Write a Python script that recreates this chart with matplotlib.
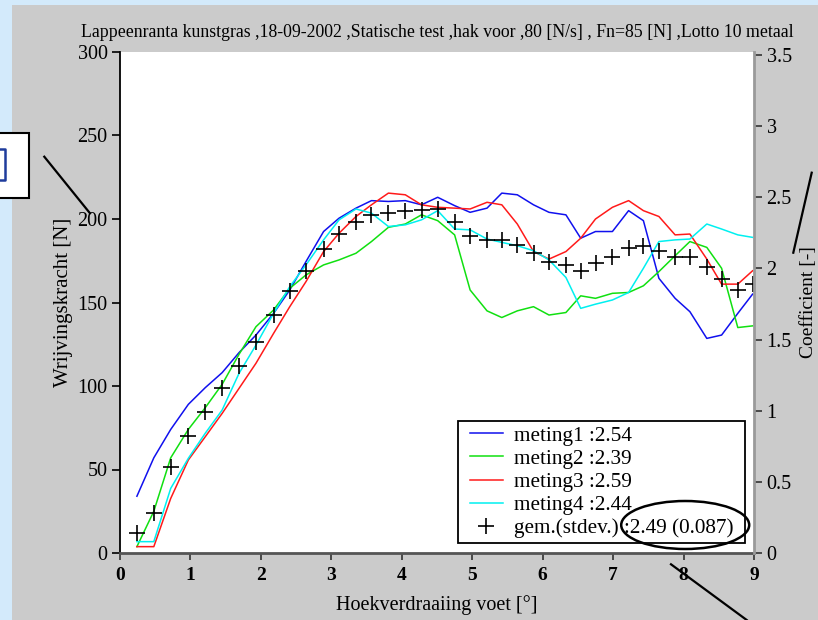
import matplotlib
matplotlib.use("Agg")
import matplotlib.pyplot as plt
from matplotlib.patches import Rectangle, Ellipse
from matplotlib.lines import Line2D

# hoekverdraaiing (graden) van de meetpunten
hoek = [0.24, 0.48, 0.72, 0.97, 1.21, 1.45, 1.69, 1.93, 2.18, 2.41,
        2.64, 2.89, 3.11, 3.35, 3.57, 3.81, 4.05, 4.28, 4.51, 4.75,
        4.97, 5.21, 5.42, 5.64, 5.87, 6.09, 6.33, 6.54, 6.75, 6.99,
        7.22, 7.43, 7.65, 7.88, 8.09, 8.33, 8.54, 8.77, 8.98]

meting1 = [34, 57, 74, 89, 99, 108, 120, 130.5, 143.5, 157.5,
           174.5, 192.5, 200.5, 206.5, 211, 210.5, 211, 208.5, 213, 208,
           204, 206.5, 215.5, 214.5, 208.5, 204, 202.5, 188.5, 192.5, 192.5,
           205, 199, 164.5, 152.5, 144.5, 128.5, 130.5, 143.5, 155]
meting2 = [3.8, 25, 57, 74, 87, 101, 119, 135.5, 145.5, 158.5,
           166.5, 172.5, 175.5, 179.5, 186.5, 195, 197, 202.5, 199, 190.5,
           157.5, 145, 141, 145, 147.5, 142.5, 144, 154, 152.5, 155.5,
           156, 160, 168.5, 178, 186.5, 183, 170.5, 135, 136]
meting3 = [3.8, 3.8, 32.7, 55.7, 69.6, 83.6, 98.6, 113.6, 131.5, 147.5,
           162.5, 180.5, 191.5, 201.5, 208.5, 215.5, 214.5, 208.5, 207, 206.5,
           206, 210, 208.5, 197, 180.5, 176, 180.5, 188.5, 200, 207,
           211, 205, 201.5, 190.5, 191, 176, 161, 161, 169]
meting4 = [6.8, 6.8, 38.7, 56.7, 71.7, 85.6, 107.6, 124.5, 143.5, 159.5,
           172.5, 187.5, 199.5, 206, 203.5, 195.5, 196.5, 199.5, 205, 194,
           193.5, 188, 186, 184, 181, 175.5, 165, 146.5, 149, 151.5,
           156, 170.5, 186.5, 187.5, 188, 197, 194, 190.5, 189]
gemiddeld = [11.8, 24.1, 51.3, 70.1, 84.6, 98.6, 112, 126.5, 142.5, 157,
             169, 182, 191, 198.4, 202.4, 203.8, 204.8, 205.4, 205.8, 198.4,
             190, 187.4, 187.4, 184.4, 179.8, 174.4, 172.5, 168.9, 173.5, 177,
             182.4, 183.8, 180.8, 177, 177.4, 171, 164, 157.5, 160.9]

labels = ["meting1 :2.54", "meting2 :2.39", "meting3 :2.59", "meting4 :2.44",
          "gem.(stdev.) :2.49 (0.087)"]
colors = ["#1010ee", "#10e010", "#ff1a1a", "#00f0f0"]

plt.rcParams['font.family'] = ['Liberation Serif', 'DejaVu Serif']

W, H = 818, 620
fig = plt.figure(figsize=(W / 100, H / 100), dpi=100)
fig.patch.set_facecolor("#d3eafb")


def px(x, y):
    """pixel (van linksboven) naar figuur-fractie"""
    return x / W, 1 - y / H


# grijze achtergrond
fig.add_artist(Rectangle(px(12, H), (W - 12) / W, (H - 5) / H,
                         transform=fig.transFigure, facecolor="#cbcbcb",
                         edgecolor="none", zorder=0))

ax = fig.add_axes([120 / W, 1 - 553 / H, 634 / W, 501 / H])
ax.set_facecolor("white")

for serie, c, lab in zip([meting1, meting2, meting3, meting4], colors, labels):
    ax.plot(hoek, serie, color=c, lw=1.1, label=lab)
ax.plot(hoek, gemiddeld, ls="none", marker="+", ms=11, mew=1.2,
        color="black", label=labels[4])

ax.set_xlim(0, 9)
ax.set_ylim(0, 300)
ax.set_xticks(range(10))
ax.set_yticks(range(0, 301, 50))
ax.tick_params(axis="x", direction="out", length=5, width=1.2, pad=5,
               labelsize=14, color="#333333")
ax.tick_params(axis="y", direction="out", length=6, width=1.2, pad=3,
               labelsize=14.5)
for t in ax.get_xticklabels():
    t.set_fontweight("bold")
ax.spines["top"].set_visible(False)
ax.spines["right"].set_visible(False)
ax.spines["left"].set_linewidth(1.3)
ax.spines["bottom"].set_linewidth(2)
ax.spines["bottom"].set_color("#555555")

ax.set_xlabel("Hoekverdraaiing voet [°]", fontsize=14.5, labelpad=8)
ax.set_ylabel("Wrijvingskracht [N]", fontsize=15, labelpad=3)
ax.set_title("Lappeenranta kunstgras ,18-09-2002 ,Statische test ,hak voor ,"
             "80 [N/s] , Fn=85 [N] ,Lotto 10 metaal", fontsize=12.8, pad=11)

ax2 = ax.twinx()
ax2.set_ylim(0, 3.52)
ax2.set_yticks([0, 0.5, 1, 1.5, 2, 2.5, 3, 3.5])
ax2.set_yticklabels(["0", "0.5", "1", "1.5", "2", "2.5", "3", "3.5"])
ax2.tick_params(axis="y", direction="out", length=6, width=1.2, pad=3,
                labelsize=14.5, color="#333333")
for s in ["top", "left", "bottom"]:
    ax2.spines[s].set_visible(False)
ax2.spines["right"].set_color("#9a9a9a")
ax2.spines["right"].set_linewidth(2)
ax2.set_ylabel("Coefficient [-]", fontsize=14, labelpad=6)

# legenda: kader apart getekend, ruimere marge links/rechts zoals in het origineel
ax.add_patch(Rectangle((0.533, 0.0206), 0.453, 0.2434, transform=ax.transAxes,
                       facecolor="white", edgecolor="black", lw=1.3, zorder=4))
leg = ax.legend(loc="center left", bbox_to_anchor=(0.552, 0.1417),
                borderaxespad=0, frameon=False, fontsize=15.3,
                handlelength=1.55, labelspacing=0.15, borderpad=0,
                handletextpad=0.52)
leg.set_zorder(5)

# aantekeningen
fig.add_artist(Rectangle(px(-2, 198), 31 / W, 65 / H, transform=fig.transFigure,
                         facecolor="white", edgecolor="black", lw=1.5, zorder=6))
bx = [0, 5, 5, 0]
by = [148.5, 148.5, 180, 180]
fig.add_artist(Line2D([x / W for x in bx], [1 - y / H for y in by],
                      transform=fig.transFigure, color="#1f3c9c", lw=1.8, zorder=7))
for (x0, y0), (x1, y1) in [((44.3, 156.7), (90, 213.3)),
                           ((811.7, 172.7), (793.3, 252.7)),
                           ((671, 564.3), (746.7, 620))]:
    fig.add_artist(Line2D([x0 / W, x1 / W], [1 - y0 / H, 1 - y1 / H],
                          transform=fig.transFigure, color="black", lw=1.6, zorder=7))
fig.add_artist(Ellipse(px(685.2, 525), 128 / W, 48 / H, transform=fig.transFigure,
                       facecolor="none", edgecolor="black", lw=1.8, zorder=7))

fig.savefig("out.png", dpi=100, facecolor=fig.get_facecolor())
